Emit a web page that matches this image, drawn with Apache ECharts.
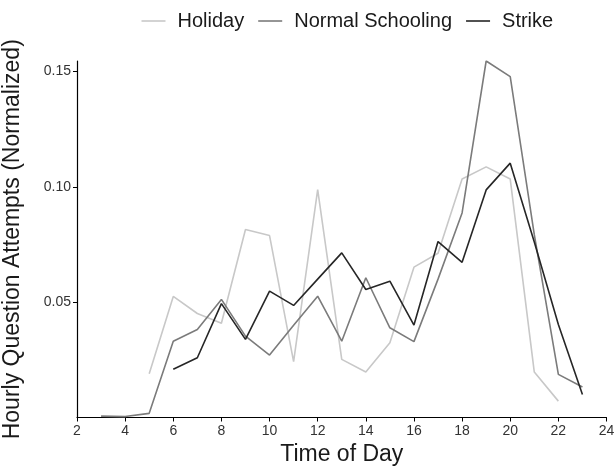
<!DOCTYPE html>
<html>
<head>
<meta charset="utf-8">
<script src="https://cdn.jsdelivr.net/npm/echarts@6/dist/echarts.min.js"></script>
<style>html,body{margin:0;padding:0;background:#fff}#c{width:616px;height:467px}</style>
</head>
<body>
<div id="c"></div>
<script>
const seriesNames = ['Holiday', 'Normal Schooling', 'Strike'];
const holidayHours = [5,6,7,8,9,10,11,12,13,14,15,16,17,18,19,20,21,22];
const holidayValues = [0.019,0.0525,0.0451,0.0409,0.0815,0.0789,0.0242,0.0988,0.0252,0.0197,0.0324,0.0652,0.0712,0.1034,0.1087,0.1034,0.0197,0.0071];
const normalHours = [3,4,5,6,7,8,9,10,11,12,13,14,15,16,17,18,19,20,21,22,23];
const normalValues = [0.0006,0.0004,0.0018,0.0331,0.0382,0.0512,0.0353,0.0271,0.040,0.0526,0.0331,0.0606,0.0389,0.0329,0.060,0.0887,0.1546,0.1478,0.0793,0.0187,0.0132];
const strikeHours = [6,7,8,9,10,11,12,13,14,15,16,17,18,19,20,21,22,23];
const strikeValues = [0.0209,0.0259,0.0494,0.0339,0.0548,0.0486,0.060,0.0714,0.0555,0.0591,0.0401,0.0763,0.0673,0.0987,0.1103,0.0761,0.0403,0.0100];
const yTickValues = [0.05, 0.10, 0.15];
const xTitle = 'Time of Day';
const yTitle = 'Hourly Question Attempts (Normalized)';

const colors = ['#c8c8c8', '#7b7b7b', '#262626'];
const pairs = (hs, vs) => hs.map((h, i) => [h, vs[i]]);
const datasets = [pairs(holidayHours, holidayValues), pairs(normalHours, normalValues), pairs(strikeHours, strikeValues)];

const chart = echarts.init(document.getElementById('c'), null, {renderer: 'canvas'});
const font = 'Liberation Sans, Arial, Helvetica, sans-serif';
chart.setOption({
  animation: false,
  backgroundColor: '#ffffff',
  textStyle: {fontFamily: font},
  legend: {
    top: 6, left: 136.5,
    icon: 'rect',
    itemWidth: 24, itemHeight: 1.6, itemGap: 14,
    textStyle: {fontSize: 20, color: '#1a1a1a', fontFamily: font, padding: [0, 0, 0, 7]},
    data: seriesNames
  },
  grid: {left: 77, right: 9.5, top: 61, bottom: 49.5, containLabel: false, outerBoundsMode: 'none'},
  xAxis: {
    type: 'value', min: 2, max: 24, interval: 2,
    name: xTitle, nameLocation: 'middle', nameGap: 25,
    nameTextStyle: {fontSize: 23, color: '#1a1a1a', fontFamily: font},
    axisLine: {show: true, lineStyle: {color: '#000', width: 1.2}},
    axisTick: {show: true, length: 4, lineStyle: {color: '#000', width: 1}},
    axisLabel: {fontSize: 14, color: '#333', margin: 7, fontFamily: font},
    splitLine: {show: false}
  },
  yAxis: {
    type: 'value', min: 0, max: 0.1546,
    name: yTitle, nameLocation: 'middle', nameGap: 52.5,
    nameTextStyle: {fontSize: 23, color: '#1a1a1a', fontFamily: font},
    axisLine: {show: true, lineStyle: {color: '#000', width: 1.2}},
    axisTick: {show: true, length: 4, customValues: yTickValues, lineStyle: {color: '#000', width: 1}},
    axisLabel: {fontSize: 14, color: '#333', margin: 6, fontFamily: font, customValues: yTickValues,
      formatter: v => v.toFixed(2)},
    splitLine: {show: false}
  },
  series: seriesNames.map((n, i) => ({
    name: n, type: 'line', data: datasets[i], symbol: 'none',
    lineStyle: {color: colors[i], width: 1.6},
    itemStyle: {color: colors[i]}
  }))
});
</script>
</body>
</html>
